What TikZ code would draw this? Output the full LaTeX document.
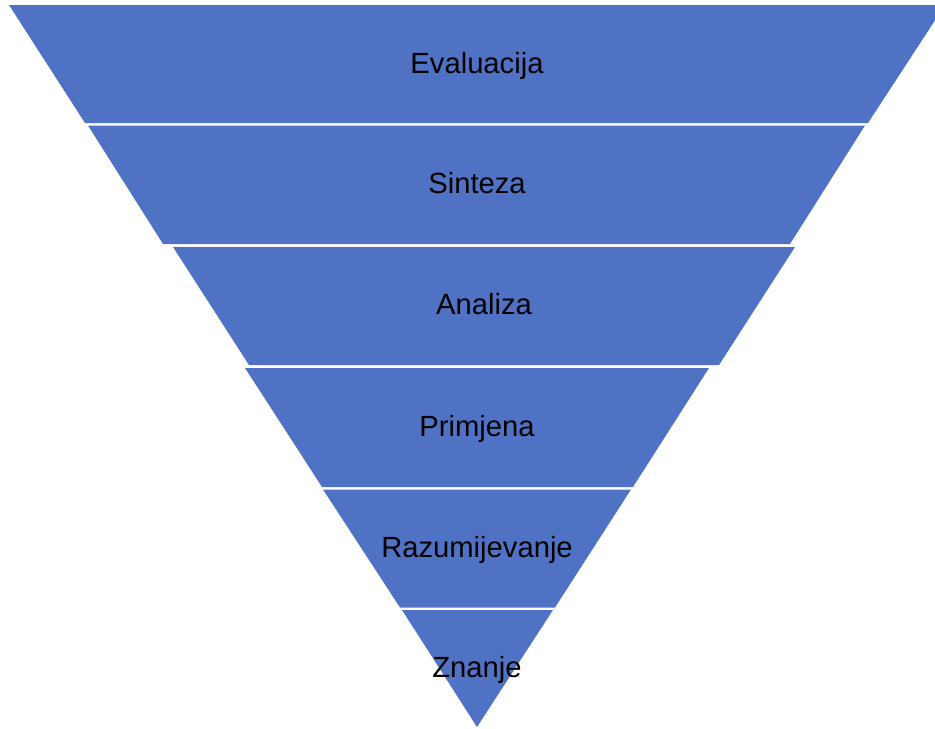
\documentclass[tikz,border=0pt]{standalone}
\usepackage{fontspec}
\setmainfont{Liberation Sans}
\definecolor{bandblue}{RGB}{80,114,196}

\begin{document}
\begin{tikzpicture}[x=0.5pt,y=-0.5pt]
\tikzstyle{band}=[fill=bandblue, draw=none]
\tikzstyle{level}=[anchor=base, inner sep=0pt, font=\fontsize{14.6}{17}\selectfont]

\useasboundingbox (0,0) rectangle (935,728);
\clip (0,0) rectangle (935,728);

    \fill[band] (9,5) -- (945,5) -- (868,123) -- (85,123) -- cycle;
    \fill[band] (88,125.5) -- (865,125.5) -- (790,244) -- (163,244) -- cycle;
    \fill[band] (173,247) -- (795,247) -- (719,365) -- (249,365) -- cycle;
    \fill[band] (245,368) -- (709,368) -- (633,487) -- (322,487) -- cycle;
    \fill[band] (323,489.5) -- (631,489.5) -- (555,607.5) -- (400,607.5) -- cycle;
    \fill[band] (402,610) -- (553,610) -- (477,727) -- cycle;


\node[level] (evaluacija) at (477,73) {Evaluacija};
\node[level] (sinteza) at (477,193) {Sinteza};
\node[level] (analiza) at (484,314) {Analiza};
\node[level] (primjena) at (477,436) {Primjena};
\node[level] (razumijevanje) at (477,557) {Razumijevanje};
\node[level] (znanje) at (477,677) {Znanje};
\end{tikzpicture}
\end{document}
